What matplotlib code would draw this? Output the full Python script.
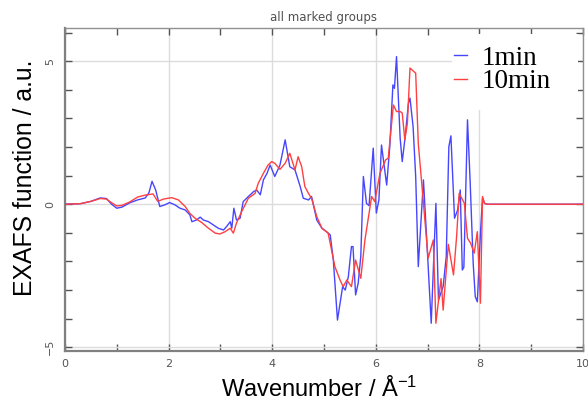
import matplotlib
matplotlib.use("Agg")
import matplotlib.pyplot as plt
from matplotlib.ticker import MultipleLocator, FuncFormatter
from matplotlib.patches import Rectangle

# ---- data ----
k_1min = [0.0, 0.3, 0.5, 0.68, 0.8, 0.9, 1.0, 1.1, 1.25, 1.4, 1.55, 1.62, 1.68, 1.75,
          1.83, 1.93, 2.02, 2.12, 2.22, 2.32, 2.41, 2.45, 2.54, 2.61, 2.67, 2.77, 2.86,
          2.96, 3.06, 3.12, 3.19, 3.22, 3.26, 3.31, 3.38, 3.44, 3.54, 3.64, 3.7, 3.77,
          3.83, 3.9, 3.96, 4.05, 4.15, 4.25, 4.34, 4.44, 4.54, 4.6, 4.7, 4.76, 4.86,
          4.96, 5.05, 5.12, 5.18, 5.26, 5.36, 5.41, 5.47, 5.53, 5.56, 5.61, 5.66, 5.71,
          5.76, 5.82, 5.87, 5.95, 6.01, 6.06, 6.11, 6.21, 6.27, 6.33, 6.36, 6.4, 6.47,
          6.51, 6.56, 6.63, 6.66, 6.72, 6.77, 6.82, 6.92, 6.98, 7.07, 7.16, 7.21, 7.3,
          7.36, 7.41, 7.45, 7.52, 7.58, 7.63, 7.67, 7.7, 7.77, 7.82, 7.88, 7.92, 7.96,
          8.02, 8.06, 8.1, 8.15, 10.0]
chi_1min = [0.0, 0.02, 0.1, 0.22, 0.2, 0.0, -0.14, -0.1, 0.05, 0.15, 0.22, 0.4, 0.8, 0.5,
            -0.08, -0.02, 0.06, -0.02, -0.14, -0.2, -0.37, -0.61, -0.55, -0.45, -0.55, -0.61, -0.72,
            -0.84, -0.9, -0.78, -0.61, -0.84, -0.14, -0.55, -0.49, 0.09, 0.27, 0.44, 0.5, 0.33,
            0.85, 1.08, 1.37, 0.97, 1.37, 2.25, 1.31, 1.2, 0.62, 0.21, 0.15, 0.27, -0.55,
            -0.84, -0.96, -1.07, -1.95, -4.05, -2.88, -3.0, -2.53, -1.48, -1.48, -3.17, -2.76, -1.83,
            0.97, 0.03, -0.05, 1.96, -0.31, 0.15, 2.07, 0.67, 2.01, 4.17, 4.05, 5.16, 2.31,
            1.49, 2.25, 3.53, 3.71, 2.71, 0.97, -2.18, 0.85, -1.13, -4.16, 0.03, -3.35, -2.88,
            -1.83, 2.01, 2.39, -0.49, -0.2, 0.5, -2.3, -2.2, 2.95, 0.85, -2.06, -3.23, -3.41,
            -1.01, 0.21, 0.03, 0.0, 0.0]

k_10min = [0.0, 0.3, 0.5, 0.68, 0.8, 0.9, 1.0, 1.1, 1.25, 1.4, 1.55, 1.7, 1.79, 1.9,
           2.06, 2.19, 2.32, 2.41, 2.51, 2.64, 2.77, 2.9, 2.99, 3.09, 3.19, 3.25, 3.31,
           3.41, 3.54, 3.67, 3.73, 3.83, 3.92, 3.99, 4.05, 4.15, 4.25, 4.34, 4.44, 4.5,
           4.57, 4.63, 4.7, 4.76, 4.86, 4.96, 5.08, 5.21, 5.31, 5.37, 5.44, 5.53, 5.61,
           5.71, 5.79, 5.92, 5.98, 6.08, 6.19, 6.24, 6.34, 6.4, 6.47, 6.51, 6.56, 6.61,
           6.66, 6.77, 6.82, 6.92, 7.01, 7.11, 7.16, 7.26, 7.3, 7.4, 7.5, 7.56, 7.61,
           7.71, 7.77, 7.83, 7.9, 7.96, 8.02, 8.06, 8.1, 8.15, 10.0]
chi_10min = [0.0, 0.02, 0.1, 0.2, 0.18, 0.05, -0.06, -0.04, 0.08, 0.25, 0.32, 0.36, 0.1, 0.18,
             0.23, 0.15, -0.08, -0.32, -0.49, -0.64, -0.84, -1.01, -1.04, -0.96, -0.84, -1.01, -0.66,
             -0.26, 0.21, 0.38, 0.73, 1.08, 1.37, 1.49, 1.43, 1.22, 1.43, 1.78, 1.2, 1.66,
             1.31, 0.62, 0.38, 0.21, -0.43, -0.84, -1.01, -2.18, -2.65, -2.88, -2.65, -2.88, -1.95,
             -2.59, -1.25, 0.27, 0.09, 1.08, 1.55, 1.61, 3.47, 3.24, 3.24, 3.19, 2.25, 2.83,
             4.76, 4.58, 2.13, 0.03, -1.89, -1.25, -4.16, -2.6, -3.7, -1.4, -2.47, -1.13, 0.38,
             0.03, -1.19, -1.36, -1.71, -0.96, -3.46, 0.27, 0.03, 0.0, 0.0]

series_labels = ["1min", "10min"]
title_text = "all marked groups"
xlabel_text = "Wavenumber / Å$^{-1}$"
ylabel_text = "EXAFS function / a.u."

plt.rcParams['mathtext.default'] = 'regular'
plt.rcParams['mathtext.fontset'] = 'custom'
plt.rcParams['mathtext.rm'] = 'Liberation Sans'

fig = plt.figure(figsize=(5.88, 4.0), dpi=100)
ax = fig.add_axes([65/588, 49/400, 518/588, 323/400])

ax.plot(k_1min, chi_1min, color='#4646ff', lw=1.0, label=series_labels[0], zorder=3)
ax.plot(k_10min, chi_10min, color='#ff4040', lw=1.0, label=series_labels[1], zorder=4)

ax.set_xlim(0, 10)
ax.set_ylim(-5.13, 6.16)

ax.xaxis.set_major_locator(MultipleLocator(2))
ax.xaxis.set_minor_locator(MultipleLocator(1))
ax.yaxis.set_major_locator(MultipleLocator(5))
ax.yaxis.set_minor_locator(MultipleLocator(1))
ax.xaxis.set_major_formatter(FuncFormatter(lambda v, p: f"{v:.0f}"))
ax.yaxis.set_major_formatter(FuncFormatter(lambda v, p: f"{v:.0f}".replace("-", "\u2212")))

ax.grid(True, which='major', color='#dcdcdc', lw=1.0, zorder=0)
ax.set_axisbelow(True)

ax.tick_params(which='both', direction='in', length=5, width=1, color='#555555',
               labelcolor='#555555', labelsize=8, top=True, right=True)
ax.tick_params(axis='x', pad=6)
ax.tick_params(axis='y', pad=7, labelrotation=90)
for lab in ax.get_yticklabels():
    lab.set_va('center')

for s in ['left', 'bottom']:
    ax.spines[s].set_color('#808080')
    ax.spines[s].set_linewidth(1.6)
for s in ['top', 'right']:
    ax.spines[s].set_color('#909090')
    ax.spines[s].set_linewidth(1.0)

ax.set_title(title_text, fontsize=8.5, color='#505050', pad=5, family='DejaVu Sans')
ax.set_xlabel(xlabel_text, fontsize=17, family='Liberation Sans')
ax.set_ylabel(ylabel_text, fontsize=17.8, family='Liberation Sans')
ax.xaxis.set_label_coords(0.49, -0.08)
ax.yaxis.set_label_coords(-0.055, 0.535)

# white legend area (covers grid like the reference, leaves ticks/spines visible)
ax.add_patch(Rectangle(((452 - 65) / 518, (351 - 110) / 323), 125.5 / 518, 76.5 / 323,
                       transform=ax.transAxes, facecolor='white', edgecolor='none',
                       zorder=6))

leg = ax.legend(loc='upper left', bbox_to_anchor=((443 - 65) / 518, (351 - 35) / 323),
                prop={'family': 'Liberation Serif', 'size': 19.5},
                frameon=False, borderaxespad=0.0, borderpad=0.4,
                handlelength=0.48, handletextpad=0.55, labelspacing=-0.05)
leg.set_zorder(10)

fig.savefig("out.png", dpi=100)
